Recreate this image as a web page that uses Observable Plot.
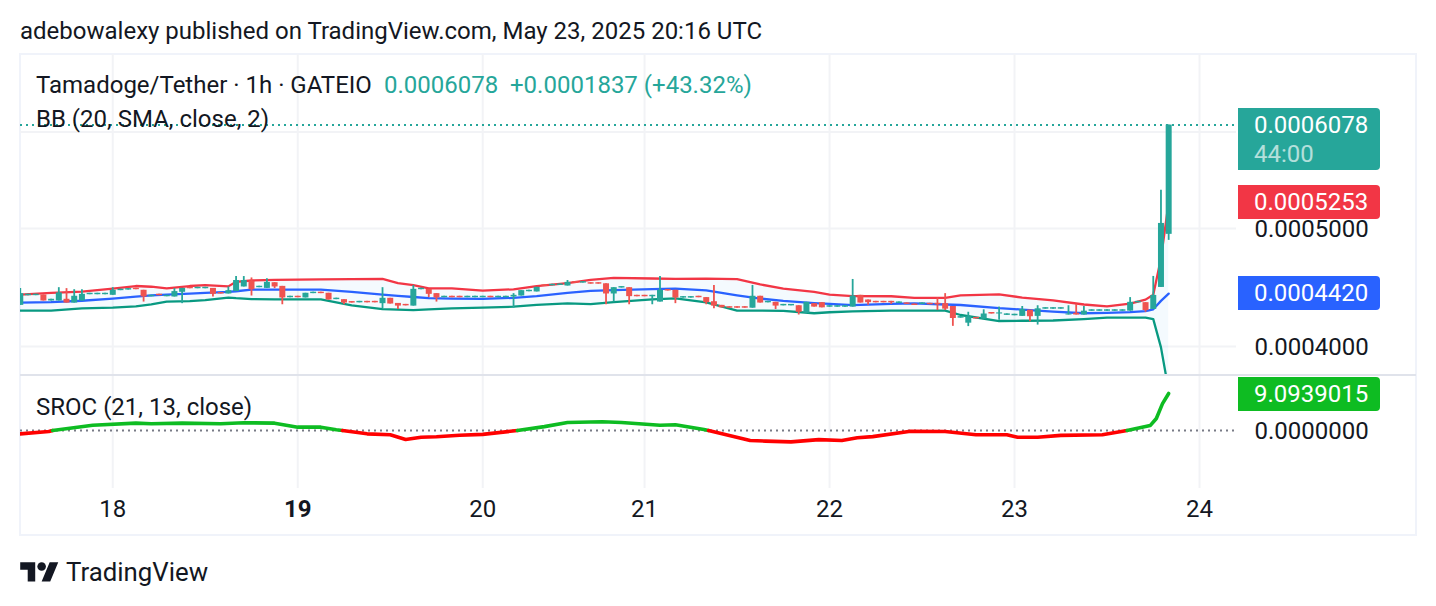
<!DOCTYPE html>
<html>
<head>
<meta charset="utf-8">
<script src="https://cdn.jsdelivr.net/npm/d3@7"></script>
<script src="https://cdn.jsdelivr.net/npm/@observablehq/plot@0.6"></script>
<style>
html,body{margin:0;padding:0;background:#fff;width:1436px;height:606px;overflow:hidden;font-family:Roboto,sans-serif;color:#131722}
#page{position:relative;width:1436px;height:606px}
.t{position:absolute;white-space:nowrap;font-size:24px;line-height:28px}
.pane{position:absolute;left:0}
.pane svg{display:block;overflow:visible;background:transparent}
.badge{position:absolute;left:1238px;width:142px;border-radius:0 4px 4px 0;color:#fff;font-size:24px;line-height:34px;text-indent:16px;white-space:nowrap}
.badge .cd{display:block;opacity:.65;line-height:24px}
#frame{position:absolute;left:19px;top:53px;width:1394px;height:479px;border:2px solid #f0f3fa}
#sep{position:absolute;left:20px;top:374px;width:1396px;height:2px;background:#e0e3eb}
</style>
</head>
<body>
<div id="page">
  <div id="frame"></div>
  <div class="t" style="left:20px;top:17px">adebowalexy published on TradingView.com, May 23, 2025 20:16 UTC</div>
  <div class="pane" id="p1" style="top:54px"></div>
  <div class="pane" id="p2" style="top:375px"></div>
  <div id="sep"></div>
  <div class="t" style="left:36px;top:71px">Tamadoge/Tether · 1h · GATEIO</div>
  <div class="t" style="left:384px;top:71px;color:#26a69a">0.0006078</div>
  <div class="t" style="left:510px;top:71px;color:#26a69a">+0.0001837 (+43.32%)</div>
  <div class="t" style="left:36px;top:105px">BB (20, SMA, close, 2)</div>
  <div class="t" style="left:36px;top:393px">SROC (21, 13, close)</div>
  <svg style="position:absolute;left:20px;top:558px" width="39" height="30" viewBox="0 0 36 28"><path fill="#131722" d="M14 22H7V11H0V4h14v18zM28 22h-8l7.5-18h8L28 22z"/><circle fill="#131722" cx="20" cy="8" r="4"/></svg>
  <div class="t" style="left:66px;top:558px;font-size:25.8px">TradingView</div>
</div>
<script>
// All prices are in units of 0.0000001 (1e-7) USDT
const PRICE_UNIT = 1e-7;
const opens = [4323,4403,4403,4409,4359,4359,4373,4342,4359,4411,
4411,4411,4406,4445,4450,4465,4448,4394,4415,4394,
4392,4431,4473,4461,4461,4464,4429,4417,4437,4476,
4526,4470,4464,4512,4481,4386,4398,4384,4420,4432,
4423,4370,4370,4354,4344,4356,4356,4337,4381,4339,
4331,4317,4453,4456,4420,4386,4398,4398,4386,4386,
4386,4398,4386,4386,4392,4400,4436,4434,4493,4486,
4489,4484,4521,4509,4512,4512,4503,4417,4467,4470,
4406,4406,4394,4350,4454,4448,4383,4383,4398,4387,
4353,4323,4312,4312,4312,4300,4398,4344,4348,4319,
4319,4320,4259,4337,4345,4308,4308,4308,4309,4406,
4367,4356,4356,4356,4339,4343,4334,4331,4340,4340,
4337,4314,4220,4180,4226,4212,4265,4253,4242,4239,
4234,4284,4234,4292,4292,4292,4245,4259,4245,4275,
4275,4275,4275,4275,4276,4344,4345,4290,4472,4944];
const closes = [4420,4415,4415,4359,4373,4426,4342,4398,4414,4423,
4423,4423,4448,4457,4462,4453,4392,4406,4403,4406,
4437,4464,4461,4473,4473,4414,4417,4445,4531,4531,
4453,4482,4515,4476,4384,4398,4386,4423,4432,4420,
4367,4382,4342,4342,4356,4344,4344,4381,4334,4317,
4319,4456,4465,4414,4384,4398,4386,4386,4398,4398,
4398,4386,4398,4398,4406,4445,4448,4473,4481,4498,
4501,4515,4509,4521,4500,4500,4417,4470,4479,4395,
4394,4394,4406,4448,4442,4384,4395,4395,4386,4345,
4317,4303,4300,4300,4300,4398,4342,4356,4317,4331,
4331,4267,4348,4309,4303,4320,4320,4320,4400,4342,
4345,4344,4344,4344,4351,4331,4322,4343,4328,4328,
4292,4217,4232,4231,4214,4253,4253,4262,4254,4251,
4289,4231,4295,4304,4304,4304,4253,4245,4276,4287,
4287,4287,4287,4287,4348,4356,4281,4405,5047,6078];
const highs = [4462,4415,4415,4409,4373,4470,4462,4453,4453,4423,
4423,4423,4470,4457,4462,4465,4448,4406,4415,4406,
4462,4464,4473,4473,4473,4464,4429,4476,4565,4565,
4553,4482,4545,4512,4481,4398,4398,4423,4432,4432,
4423,4382,4370,4354,4356,4356,4356,4470,4381,4339,
4331,4489,4465,4456,4420,4398,4398,4398,4398,4398,
4398,4398,4398,4398,4420,4445,4448,4473,4493,4498,
4501,4531,4521,4521,4512,4512,4503,4470,4479,4470,
4406,4406,4406,4565,4454,4448,4395,4395,4398,4387,
4489,4323,4312,4312,4312,4489,4398,4356,4348,4331,
4331,4320,4348,4337,4345,4320,4320,4320,4540,4406,
4367,4356,4356,4356,4351,4343,4334,4343,4340,4384,
4420,4314,4232,4267,4226,4287,4265,4309,4254,4251,
4314,4284,4320,4304,4304,4304,4320,4331,4314,4287,
4287,4287,4287,4287,4387,4356,4345,4566,5373,6078];
const lows = [4323,4403,4403,4359,4359,4359,4342,4342,4359,4411,
4411,4411,4406,4445,4450,4453,4350,4394,4403,4394,
4392,4337,4461,4461,4461,4392,4417,4417,4437,4476,
4400,4470,4464,4462,4328,4386,4386,4384,4420,4420,
4367,4370,4328,4342,4344,4344,4344,4295,4334,4289,
4319,4317,4453,4387,4350,4386,4386,4386,4386,4386,
4386,4386,4386,4386,4300,4400,4436,4434,4481,4486,
4489,4484,4509,4509,4500,4500,4328,4350,4467,4328,
4394,4394,4328,4350,4442,4337,4383,4383,4386,4328,
4295,4303,4300,4300,4300,4300,4342,4344,4289,4319,
4319,4245,4259,4309,4303,4308,4308,4308,4309,4342,
4323,4344,4344,4331,4339,4331,4322,4331,4328,4281,
4281,4155,4220,4153,4214,4212,4253,4203,4242,4239,
4234,4191,4165,4292,4292,4292,4245,4245,4245,4275,
4275,4275,4275,4275,4276,4344,4267,4290,4472,4888];

// Bollinger Bands, read at these bars
const bbBars = [0,4,8,12,15,17,19,22,24,27,28,30,33,39,43,47,49,51,53,56,60,64,67,71,74,77,82,85,89,93,96,99,103,105,108,113,116,120,122,127,130,134,138,141,144,146,147,148,149];
const bbUpper = [4412,4426,4437,4462,4484,4478,4464,4484,4492,4481,4520,4531,4537,4540,4542,4545,4509,4492,4464,4464,4446,4456,4484,4509,4537,4553,4548,4545,4547,4542,4498,4462,4434,4412,4400,4398,4384,4384,4406,4414,4387,4364,4330,4315,4338,4370,4410,4724,5253];
const bbBasis = [4345,4350,4361,4379,4395,4406,4412,4420,4426,4434,4440,4453,4453,4453,4434,4412,4401,4392,4382,4378,4376,4385,4400,4427,4443,4450,4457,4462,4448,4406,4379,4360,4342,4335,4325,4335,4339,4330,4326,4300,4289,4273,4259,4262,4268,4276,4291,4360,4420];
const bbLower = [4281,4281,4299,4305,4315,4331,4353,4358,4366,4387,4382,4375,4373,4373,4323,4293,4288,4284,4291,4298,4305,4312,4327,4340,4333,4350,4372,4381,4348,4281,4280,4278,4259,4267,4275,4281,4281,4281,4245,4197,4199,4201,4212,4224,4224,4224,4212,3993,3680];

// SROC (21, 13, close), read at these bar positions
const srocBars = [0,3.7,4.2,9.4,15,17,21,26,29,33,36,39,41,41.8,45,48,50,52,54,57,60,64.5,68,71,75.5,78,83,85,88.7,89.3,94.7,96.7,100,103.6,106.6,108.6,110.6,115.5,120,124,128,129.4,132,135,140.4,143.6,146.6,147.4,148.2,149];
const srocValues = [-0.82,-0.26,0,1.3,1.8,1.65,1.8,1.65,1.9,1.8,0.82,0.82,0.17,0,-0.82,-1.05,-2.2,-1.65,-1.55,-1.15,-0.95,0,0.95,1.95,2.15,1.95,1.3,1.4,0.25,0,-2.45,-2.6,-2.8,-2.25,-2.45,-1.8,-1.5,-0.17,-0.26,-1.05,-1.05,-1.65,-1.65,-1.2,-1.05,0,1.2,2.95,6.6,9.0939015];

const dayBars = [12,60,81,105,129,153];
const dayLabels = ["18","20","21","22","23","24"];
const boldDayBars = [36];
const boldDayLabels = ["19"];
const priceTicks = [0.0004,0.0005];
const priceGrid = [0.0004,0.0005,0.0006];
const lastPrice = 0.0006078, bbUpperLast = 0.0005253, bbBasisLast = 0.0004420, srocLast = 9.0939015;

const UP = "#26a69a", DOWN = "#ef5350";
const GRID = "#f2f3f6";
const xScale = {type:"linear",domain:[0.03,157.8]};
const baseStyle = {fontFamily:"Roboto, sans-serif",fontSize:"24px",color:"#131722",background:"transparent",overflow:"visible"};

const bars = opens.map((o,i)=>({i,o:o*PRICE_UNIT,c:closes[i]*PRICE_UNIT,h:highs[i]*PRICE_UNIT,l:lows[i]*PRICE_UNIT,col:closes[i]>=o?UP:DOWN}));
const bb = bbBars.map((i,k)=>({i,u:bbUpper[k]*PRICE_UNIT,m:bbBasis[k]*PRICE_UNIT,d:bbLower[k]*PRICE_UNIT}));

const pricePlot = Plot.plot({
  width:1436,height:321,marginLeft:20,marginRight:200,marginTop:0,marginBottom:0,
  style:baseStyle,
  x:{...xScale,axis:null},
  y:{type:"log",domain:[0.00037864,0.00069452],range:[321,0],axis:null},
  color:{type:"identity"},
  marks:[
    Plot.gridX(dayBars.concat(boldDayBars),{stroke:GRID,strokeOpacity:1,strokeWidth:2}),
    Plot.gridY(priceGrid,{stroke:GRID,strokeOpacity:1,strokeWidth:2}),
    Plot.areaY(bb,{x:"i",y1:"d",y2:"u",fill:"#2196f3",fillOpacity:0.05,clip:true}),
    Plot.line(bb,{x:"i",y:"u",stroke:"#f23645",strokeWidth:2.3,clip:true}),
    Plot.line(bb,{x:"i",y:"m",stroke:"#2962ff",strokeWidth:2.3,clip:true}),
    Plot.line(bb,{x:"i",y:"d",stroke:"#089981",strokeWidth:2.3,clip:true}),
    Plot.ruleY([lastPrice],{stroke:UP,strokeWidth:2,strokeDasharray:"2 4"}),
    Plot.ruleX(bars,{x:"i",y1:"l",y2:"h",stroke:"col",strokeWidth:1.8,clip:true}),
    Plot.ruleX(bars,{x:"i",y1:"o",y2:"c",stroke:"col",strokeWidth:6,clip:true}),
    Plot.axisY(priceTicks,{anchor:"right",tickSize:0,tickPadding:18,tickFormat:d=>d.toFixed(7),fontSize:24,label:null,textAnchor:"start",dy:1})
  ]
});
document.getElementById("p1").appendChild(pricePlot);

// SROC is split into green and red runs at its zero crossings
const srocRows = [];
let seg = 0;
srocBars.forEach((i,k)=>{
  const v = srocValues[k];
  const next = srocValues[k+1];
  if (v === 0) {
    const prev = srocValues[k-1];
    srocRows.push({i,v,seg,col:prev>0?"#0ebc22":"#ff0000"});
    seg++;
    srocRows.push({i,v,seg,col:next>0?"#0ebc22":"#ff0000"});
  } else {
    srocRows.push({i,v,seg,col:v>0?"#0ebc22":"#ff0000"});
  }
});

const srocPlot = Plot.plot({
  width:1436,height:160,marginLeft:20,marginRight:200,marginTop:0,marginBottom:47,
  style:baseStyle,
  x:{...xScale,axis:null},
  y:{type:"linear",domain:[-14.25,13.51],range:[113,0],axis:null},
  color:{type:"identity"},
  marks:[
    Plot.gridX(dayBars.concat(boldDayBars),{stroke:GRID,strokeOpacity:1,strokeWidth:2}),
    Plot.ruleY([0],{stroke:"#787b86",strokeWidth:2,strokeDasharray:"2 4"}),
    Plot.line(srocRows,{x:"i",y:"v",z:"seg",stroke:"col",strokeWidth:3.6,curve:"linear",strokeLinecap:"round",strokeLinejoin:"round",clip:true}),
    Plot.axisY([0],{anchor:"right",tickSize:0,tickPadding:18,tickFormat:d=>d.toFixed(7),fontSize:24,label:null,textAnchor:"start",dy:1}),
    Plot.axisX(dayBars,{anchor:"bottom",tickSize:0,tickPadding:11,tickFormat:d=>dayLabels[dayBars.indexOf(d)],fontSize:24,label:null}),
    Plot.axisX(boldDayBars,{anchor:"bottom",tickSize:0,tickPadding:11,tickFormat:d=>boldDayLabels[boldDayBars.indexOf(d)],fontSize:24,fontWeight:"bold",label:null})
  ]
});
document.getElementById("p2").appendChild(srocPlot);

// price badges, placed through the scales
const page = document.getElementById("page");
function badge(text,centre,bg,extra){
  const d = document.createElement("div");
  d.className = "badge";
  d.textContent = text;
  d.style.background = bg;
  d.style.top = (centre-17)+"px";
  if (extra){
    const c = document.createElement("span");
    c.className = "cd"; c.textContent = extra; d.appendChild(c);
    d.style.height = "62px";
  } else d.style.height = "34px";
  page.appendChild(d);
}
const yPrice = v => 54 + pricePlot.scale("y").apply(v);
const ySroc = v => 375 + srocPlot.scale("y").apply(v);
badge(bbBasisLast.toFixed(7),yPrice(bbBasisLast),"#2962ff");
badge(bbUpperLast.toFixed(7),yPrice(bbUpperLast),"#f23645");
badge(lastPrice.toFixed(7),yPrice(lastPrice),UP,"44:00");
badge(srocLast.toFixed(7),ySroc(srocLast)+1,"#0ebc22");
</script>
</body>
</html>
